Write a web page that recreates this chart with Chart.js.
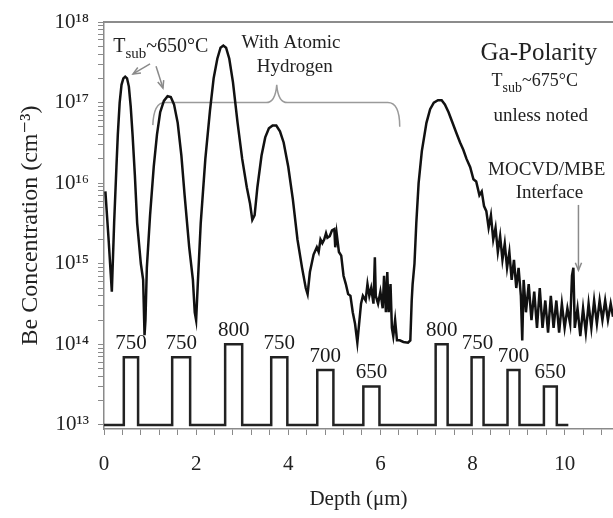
<!DOCTYPE html>
<html><head><meta charset="utf-8">
<script src="https://cdn.jsdelivr.net/npm/chart.js@4.4.0/dist/chart.umd.min.js"></script>
<style>html,body{margin:0;padding:0;background:#fff}#wrap{width:613px;height:518px;position:relative}</style>
</head><body><div id="wrap"><canvas id="c"></canvas></div>
<script>
// ---- data ----
const depthUm = [0.03,0.10,0.17,0.22,0.27,0.30,0.34,0.38,0.42,0.46,0.50,0.54,0.58,0.62,0.67,0.72,0.80,0.85,0.88,0.90,0.93,1.00,1.08,1.15,1.22,1.30,1.38,1.45,1.52,1.60,1.68,1.75,1.85,1.93,1.97,2.00,2.04,2.10,2.20,2.30,2.38,2.46,2.53,2.59,2.65,2.72,2.80,2.90,3.00,3.10,3.17,3.22,3.27,3.33,3.42,3.50,3.58,3.66,3.74,3.82,3.90,4.00,4.10,4.20,4.30,4.38,4.42,4.47,4.55,4.62,4.66,4.70,4.74,4.78,4.82,4.85,4.90,4.95,5.00,5.02,5.05,5.10,5.15,5.20,5.25,5.30,5.35,5.40,5.45,5.50,5.53,5.58,5.62,5.68,5.72,5.76,5.80,5.85,5.88,5.90,5.95,6.00,6.05,6.08,6.12,6.15,6.18,6.22,6.25,6.28,6.32,6.36,6.42,6.50,6.60,6.65,6.68,6.70,6.74,6.78,6.83,6.90,7.00,7.08,7.16,7.25,7.33,7.40,7.48,7.56,7.65,7.73,7.80,7.87,7.95,8.02,8.08,8.15,8.20,8.25,
  8.30,8.35,8.40,8.45,8.50,8.55,8.60,8.65,8.70,8.75,8.80,8.85,8.90,8.95,9.00,9.05,9.08,9.11,9.16,9.22,9.28,9.34,9.40,9.46,9.52,9.58,9.64,9.70,9.76,9.82,9.88,9.94,10.00,10.06,10.12,10.16,10.19,10.22,10.28,10.34,10.40,10.46,10.52,10.58,10.64,10.70,10.76,10.82,10.88,10.94,11.00,11.05];
const beConc = [7.9e15,2.0e15,4.5e14,3.2e15,1.6e16,4.0e16,1.0e17,1.66e17,2.0e17,2.1e17,2.0e17,1.58e17,8.9e16,4.0e16,1.26e16,3.2e15,1.0e15,6.3e14,1.3e14,2.0e14,8.9e14,4.0e15,1.6e16,4.0e16,7.6e16,1.05e17,1.2e17,1.17e17,9.5e16,5.6e16,2.2e16,7.1e15,1.6e15,6.3e14,2.5e14,2.0e14,6.3e14,3.2e15,2.0e16,7.9e16,2.0e17,3.5e17,4.8e17,5.1e17,4.8e17,3.5e17,1.78e17,5.6e16,2.0e16,8.9e15,5.6e15,3.5e15,4.0e15,8.9e15,2.2e16,3.7e16,4.8e16,5.2e16,5.2e16,4.4e16,3.2e16,1.6e16,6.3e15,2.0e15,8.9e14,5.0e14,4.2e14,7.9e14,1.3e15,1.6e15,1.4e15,2.0e15,1.8e15,2.0e15,2.4e15,2.1e15,2.2e15,2.6e15,2.7e15,1.6e15,2.4e15,1.4e15,1.26e15,7.1e14,5.6e14,4.2e14,4.0e14,2.5e14,1.8e14,1.05e14,1.6e14,3.2e14,4.0e14,3.5e14,5.6e14,4.0e14,5.0e14,3.2e14,1.2e15,4.0e14,3.2e14,4.5e14,2.8e14,7.1e14,2.5e14,7.9e14,2.5e14,5.6e14,1.6e14,1.26e14,2.0e14,1.12e14,1.12e14,1.07e14,1.05e14,1.12e14,3.5e14,5.6e14,1.0e15,3.2e15,1.0e16,2.5e16,5.6e16,8.3e16,1.0e17,1.07e17,1.07e17,9.5e16,7.6e16,5.75e16,4.2e16,3.2e16,2.6e16,2.0e16,1.58e16,1.12e16,1.05e16,7.1e15,7.9e15,5.2e15,
  4.5e15,2.8e15,4.0e15,2.0e15,2.8e15,1.4e15,2.2e15,1.12e15,1.78e15,8.9e14,1.4e15,6.3e14,1.12e15,5.0e14,8.9e14,4.0e14,1.12e14,6.3e14,2.5e14,5.6e14,2.0e14,4.5e14,1.6e14,5.0e14,1.6e14,3.5e14,1.4e14,4.0e14,1.6e14,3.5e14,1.4e14,3.2e14,1.6e14,2.8e14,1.8e14,7.1e14,8.9e14,1.6e14,2.8e14,1.26e14,2.8e14,1.4e14,3.2e14,1.6e14,3.5e14,1.8e14,3.5e14,2.0e14,3.5e14,2.0e14,3.2e14,2.2e14];

const pulseStartUm = [0.43,1.48,2.63,3.63,4.63,5.63,7.20,7.98,8.76,9.55];
const pulseEndUm   = [0.74,1.87,3.00,3.98,4.98,5.98,7.46,8.24,9.02,9.83];
const pulseTempC   = [750,750,800,750,700,650,800,750,700,650];
const pulseLevel   = [6.9e13,6.9e13,1.0e14,6.9e13,4.8e13,3.0e13,1.0e14,6.9e13,4.8e13,3.0e13];
const stepBase = 1e13;
const stepEndUm = 10.08;

const xTickLabels = ['0','2','4','6','8','10'];
const yTickLabels = ['10\u00B9\u00B3','10\u00B9\u2074','10\u00B9\u2075','10\u00B9\u2076','10\u00B9\u2077','10\u00B9\u2078'];

// ---- build datasets ----
const profile = depthUm.map((d,i)=>({x:d,y:beConc[i]}));
const steps = [{x:0,y:stepBase}];
pulseStartUm.forEach((s,i)=>{
  steps.push({x:s,y:stepBase},{x:s,y:pulseLevel[i]},{x:pulseEndUm[i],y:pulseLevel[i]},{x:pulseEndUm[i],y:stepBase});
});
steps.push({x:stepEndUm,y:stepBase});

const SERIF = '"Liberation Serif","Times New Roman","DejaVu Serif",serif';

function drawParts(ctx, parts, x, y, align){
  let w=0;
  parts.forEach(p=>{ctx.font=p.size+'px '+SERIF; w+=ctx.measureText(p.t).width;});
  let cx = align==='center'? x-w/2 : x;
  ctx.textAlign='left'; ctx.textBaseline='alphabetic';
  parts.forEach(p=>{ctx.font=p.size+'px '+SERIF; ctx.fillText(p.t,cx,y+(p.dy||0)); cx+=ctx.measureText(p.t).width;});
}
function arrow(ctx,x1,y1,x2,y2){
  ctx.beginPath();ctx.moveTo(x1,y1);ctx.lineTo(x2,y2);ctx.stroke();
  const a=Math.atan2(y2-y1,x2-x1),L=8;
  ctx.beginPath();
  ctx.moveTo(x2-L*Math.cos(a-0.4),y2-L*Math.sin(a-0.4));
  ctx.lineTo(x2,y2);
  ctx.lineTo(x2-L*Math.cos(a+0.4),y2-L*Math.sin(a+0.4));
  ctx.stroke();
}

const deco = {
  id:'deco',
  beforeDatasetsDraw(chart){
    const ctx=chart.ctx, sx=chart.scales.x, sy=chart.scales.y;
    const X=v=>sx.getPixelForValue(v), Y=l=>sy.getPixelForValue(Math.pow(10,l));
    ctx.save();
    ctx.strokeStyle='#9a9a9a'; ctx.lineWidth=1.5;
    ctx.beginPath();
    ctx.moveTo(X(1.06),Y(16.72));
    ctx.quadraticCurveTo(X(1.08),Y(17.0),X(1.32),Y(17.0));
    ctx.lineTo(X(3.52),Y(17.0));
    ctx.quadraticCurveTo(X(3.72),Y(17.0),X(3.75),Y(17.22));
    ctx.quadraticCurveTo(X(3.78),Y(17.0),X(3.98),Y(17.0));
    ctx.lineTo(X(6.16),Y(17.0));
    ctx.quadraticCurveTo(X(6.42),Y(17.0),X(6.42),Y(16.70));
    ctx.stroke();
    ctx.restore();
  },
  afterDraw(chart){
    const ctx=chart.ctx, sx=chart.scales.x, sy=chart.scales.y, ca=chart.chartArea;
    const X=v=>sx.getPixelForValue(v), Y=l=>sy.getPixelForValue(Math.pow(10,l));
    ctx.save();
    ctx.strokeStyle='#8c8c8c'; ctx.lineWidth=2;
    ctx.beginPath(); ctx.moveTo(ca.left,Y(18)); ctx.lineTo(ca.right,Y(18)); ctx.stroke();
    ctx.fillStyle='#1a1a1a'; ctx.font='21px '+SERIF; ctx.textAlign='center'; ctx.textBaseline='bottom';
    pulseTempC.forEach((t,i)=>{
      ctx.fillText(String(t), X((pulseStartUm[i]+pulseEndUm[i])/2), sy.getPixelForValue(pulseLevel[i])-3);
    });
    ctx.fillStyle='#222';
    drawParts(ctx,[{t:'T',size:20},{t:'sub',size:15,dy:6},{t:'~650\u00B0C',size:20}],X(0.2),Y(17.63),'left');
    ctx.textAlign='center'; ctx.textBaseline='middle';
    ctx.font='19px '+SERIF;
    ctx.fillText('With Atomic',X(4.06),Y(17.74));
    ctx.fillText('Hydrogen',X(4.14),Y(17.44));
    ctx.font='25px '+SERIF;
    ctx.fillText('Ga-Polarity',X(9.44),Y(17.61));
    drawParts(ctx,[{t:'T',size:18},{t:'sub',size:14,dy:6},{t:'~675\u00B0C',size:18}],X(9.35),Y(17.2),'center');
    ctx.textAlign='center'; ctx.textBaseline='middle';
    ctx.font='19px '+SERIF;
    ctx.fillText('unless noted',X(9.48),Y(16.83));
    ctx.fillText('MOCVD/MBE',X(9.61),Y(16.16));
    ctx.fillText('Interface',X(9.67),Y(15.88));
    ctx.strokeStyle='#8a8a8a'; ctx.lineWidth=1.5;
    arrow(ctx,X(1.0),Y(17.48),X(0.63),Y(17.355));
    arrow(ctx,X(1.13),Y(17.45),X(1.28),Y(17.18));
    arrow(ctx,X(10.3),Y(15.73),X(10.3),Y(14.92));
    ctx.restore();
  }
};

new Chart(document.getElementById('c'),{
  type:'line',
  data:{datasets:[
    {data:profile,borderColor:'#111',borderWidth:2.5,pointRadius:0,tension:0,fill:false},
    {data:steps,borderColor:'#222',borderWidth:2.5,pointRadius:0,tension:0,fill:false}
  ]},
  options:{
    responsive:true,maintainAspectRatio:false,animation:false,
    layout:{padding:{top:22,right:0,left:0,bottom:0}},
    plugins:{legend:{display:false},tooltip:{enabled:false}},
    scales:{
      x:{type:'linear',min:0,max:11.05,
        afterBuildTicks(s){const t=[];for(let k=0;k<=27;k++)t.push({value:+(k*0.4).toFixed(2)});s.ticks=t;},
        afterFit(s){s.height=89;s.paddingLeft=0;s.paddingRight=0;},
        ticks:{autoSkip:false,maxRotation:0,padding:17,color:'#222',font:{family:SERIF,size:21},
          callback(v){const r=Math.round(v);return (Math.abs(v-r)<1e-6&&r%2===0)?xTickLabels[r/2]:'';}},
        grid:{drawOnChartArea:false,tickLength:6,color:'#8a8a8a'},
        border:{color:'#8a8a8a',width:1.5},
        title:{display:true,text:'Depth (\u03BCm)',color:'#222',font:{family:SERIF,size:21},padding:{top:0,bottom:6}}
      },
      y:{type:'logarithmic',min:8.9e12,max:1e18,
        afterBuildTicks(s){const t=[];for(let e=13;e<=17;e++){for(let m=1;m<=9;m++)t.push({value:m*Math.pow(10,e)});}t.push({value:1e18});s.ticks=t;},
        afterFit(s){s.width=104;},
        ticks:{autoSkip:false,padding:9,color:'#222',font:{family:SERIF,size:21},
          callback(v){const e=Math.round(Math.log10(v));return Math.abs(v/Math.pow(10,e)-1)<1e-6?yTickLabels[e-13]:'';}},
        grid:{drawOnChartArea:false,tickLength:6,color:'#8a8a8a'},
        border:{color:'#8a8a8a',width:1.5},
        title:{display:true,text:'Be Concentration (cm\u207B\u00B3)',color:'#222',font:{family:SERIF,size:24},padding:{top:16,bottom:0}}
      }
    }
  },
  plugins:[deco]
});
</script></body></html>
